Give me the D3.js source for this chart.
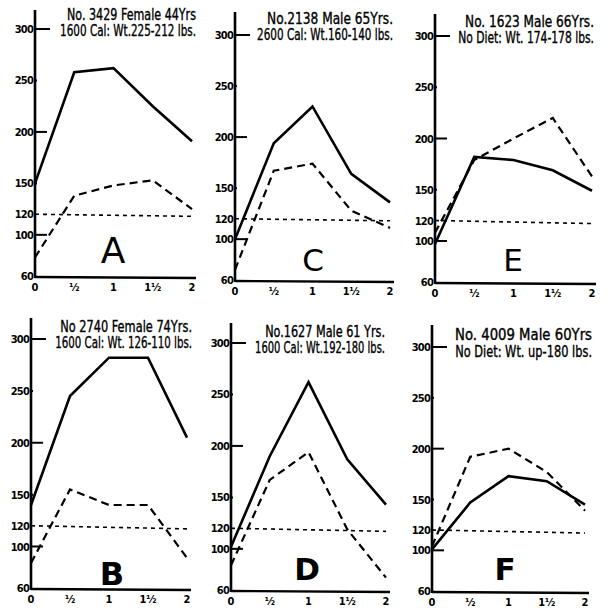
<!DOCTYPE html>
<html>
<head>
<meta charset="utf-8">
<script src="https://cdn.jsdelivr.net/npm/d3@7"></script>
<style>
  html, body { margin: 0; padding: 0; background: #fff; }
  svg { display: block; }
</style>
</head>
<body>
<svg id="chart" width="610" height="610"></svg>
<script>
// ---------- DATA ----------
const hours = [0, 0.5, 1, 1.5, 2];
const hourLabels = ["0", "½", "1", "1½", "2"];
const yTicks = [60, 100, 120, 150, 200, 250, 300];
const longTicks = [300, 200, 100];

const panelLetters = ["A", "C", "E", "B", "D", "F"];
const titleLine1 = ["No. 3429 Female 44Yrs", "No.2138 Male 65Yrs.", "No. 1623 Male 66Yrs.",
                    "No 2740 Female 74Yrs.", "No.1627 Male 61 Yrs.", "No. 4009 Male 60Yrs"];
const titleLine2 = ["1600 Cal: Wt.225-212 lbs.", "2600 Cal: Wt.160-140 lbs.", "No Diet: Wt. 174-178 lbs.",
                    "1600 Cal: Wt. 126-110 lbs.", "1600 Cal: Wt.192-180 lbs.", "No Diet: Wt. up-180 lbs."];

// solid curve values (0, ½, 1, 1½, 2 hours)
const solidA = [150, 258, 262, 225, 191];
const solidC = [100, 194, 230, 164, 136];
const solidE = [97, 182, 179, 169, 149];
const solidB = [140, 245, 282, 282, 205];
const solidD = [102, 190, 262, 187, 143];
const solidF = [101, 147, 173, 168, 145];

// dashed curve values
const dashedA = [78, 138, 148, 153, 125];
const dashedC = [70, 167, 174, 128, 111];
const dashedE = [108, 179, 200, 220, 163];
const dashedB = [84, 155, 140, 140, 89];
const dashedD = [84, 167, 194, 119, 72];
const dashedF = [104, 192, 200, 177, 139];

// dotted reference line (start at 0 h, end at 2 h)
const refA = [120, 118];
const refC = [120, 118];
const refE = [120, 117];
const refB = [120, 117];
const refD = [120, 117];
const refF = [120, 117];

const solids = [solidA, solidC, solidE, solidB, solidD, solidF];
const dasheds = [dashedA, dashedC, dashedE, dashedB, dashedD, dashedF];
const refs = [refA, refC, refE, refB, refD, refF];

// ---------- LAYOUT (per panel frame, as printed) ----------
const frames = [
  { ax: 35,  x2: 192, y300: 29,  y60: 276, top: 10,  t1: 20,  t2: 36,  tr: 196, L: { x: 113, y: 263, s: 36, w: 400 }, l1: 129, l2: 136 },
  { ax: 235, x2: 390, y300: 35,  y60: 280, top: 12,  t1: 24,  t2: 40,  tr: 393, L: { x: 313, y: 271, s: 31, w: 400 }, l1: 126, l2: 136 },
  { ax: 435, x2: 592, y300: 36,  y60: 282, top: 14,  t1: 27,  t2: 43,  tr: 594, L: { x: 513, y: 271, s: 31, w: 400 }, l1: 129, l2: 136 },
  { ax: 31,  x2: 187, y300: 339, y60: 588, top: 318, t1: 332, t2: 348, tr: 192, L: { x: 112, y: 585, s: 32, w: 700 }, l1: 132, l2: 137 },
  { ax: 231, x2: 386, y300: 343, y60: 590, top: 323, t1: 337, t2: 353, tr: 385, L: { x: 307, y: 580, s: 31, w: 700 }, l1: 120, l2: 130 },
  { ax: 432, x2: 585, y300: 347, y60: 591, top: 325, t1: 340, t2: 357, tr: 592, L: { x: 505, y: 580, s: 31, w: 700 }, l1: 137, l2: 137 }
];

const svg = d3.select("#chart");
const FONT = "'DejaVu Sans Condensed', 'Liberation Sans Narrow', 'Liberation Sans', sans-serif";

function fittedTitle(g, str, right, base, width) {
  const t = g.append("text")
    .attr("x", 0).attr("y", 0).attr("text-anchor", "end")
    .attr("font-family", FONT).attr("font-size", 15)
    .attr("stroke", "#000").attr("stroke-width", 0.35)
    .text(str);
  const natural = t.node().getComputedTextLength() || width;
  const sx = width / natural;
  t.attr("transform", `translate(${right},${base}) scale(${sx},1)`);
}

panelLetters.forEach((letter, i) => {
  const f = frames[i];
  const x = d3.scaleLinear().domain([0, 2]).range([f.ax, f.x2]);
  const y = d3.scaleLinear().domain([60, 300]).range([f.y60, f.y300]);
  const g = svg.append("g");

  // vertical axis
  g.append("line").attr("x1", f.ax).attr("x2", f.ax).attr("y1", f.top).attr("y2", f.y60 + 2)
    .attr("stroke", "#000").attr("stroke-width", 2.6);
  // horizontal axis
  g.append("line").attr("x1", f.ax).attr("x2", f.x2 + 4).attr("y1", f.y60 + 1).attr("y2", f.y60 + 2)
    .attr("stroke", "#000").attr("stroke-width", 2.4);

  // y ticks
  const tk = g.selectAll(".yt").data(yTicks).enter().append("g");
  tk.filter(d => d !== 60 && d !== 120).append("line")
    .attr("x1", f.ax).attr("x2", d => f.ax + (longTicks.includes(d) ? (d === 300 ? 15 : 12) : 2))
    .attr("y1", d => y(d)).attr("y2", d => y(d))
    .attr("stroke", "#000").attr("stroke-width", 2);
  tk.append("text")
    .attr("x", f.ax - 2).attr("y", d => y(d) + 4)
    .attr("text-anchor", "end")
    .attr("font-family", FONT).attr("font-weight", 700).attr("font-size", 11)
    .attr("letter-spacing", -0.8)
    .text(d => d);

  // x labels
  g.selectAll(".xl").data(hours).enter().append("text")
    .attr("x", d => x(d)).attr("y", f.y60 + 15)
    .attr("text-anchor", "middle")
    .attr("font-family", FONT).attr("font-weight", 700).attr("font-size", 11)
    .text((d, j) => hourLabels[j]);

  // reference dotted line
  g.append("line")
    .attr("x1", x(0)).attr("x2", x(2))
    .attr("y1", y(refs[i][0])).attr("y2", y(refs[i][1]))
    .attr("stroke", "#000").attr("stroke-width", 1.6).attr("stroke-dasharray", "4,4");

  const line = d3.line().x((d, j) => x(hours[j])).y(d => y(d));

  g.append("path").datum(dasheds[i]).attr("d", line)
    .attr("fill", "none").attr("stroke", "#000").attr("stroke-width", 2.2)
    .attr("stroke-dasharray", "8,5");
  g.append("path").datum(solids[i]).attr("d", line)
    .attr("fill", "none").attr("stroke", "#000").attr("stroke-width", 2.6)
    .attr("stroke-linejoin", "miter");

  // titles
  fittedTitle(g, titleLine1[i], f.tr, f.t1, f.l1);
  fittedTitle(g, titleLine2[i], f.tr, f.t2, f.l2);

  // panel letter
  g.append("text").attr("x", f.L.x).attr("y", f.L.y).attr("text-anchor", "middle")
    .attr("font-family", "'DejaVu Sans', sans-serif").attr("font-weight", f.L.w)
    .attr("font-size", f.L.s)
    .text(letter);
});
</script>
</body>
</html>
